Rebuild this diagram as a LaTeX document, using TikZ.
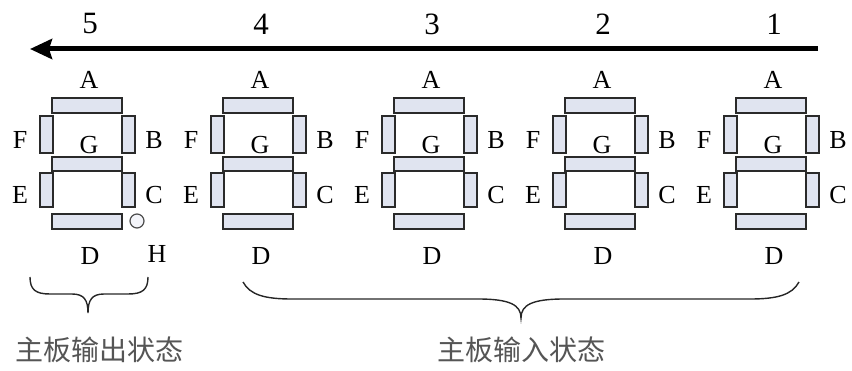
\documentclass[tikz,border=0pt]{standalone}
\usepackage{fontspec}
\setmainfont{Liberation Serif}
\newfontfamily\cjk{Noto Sans CJK SC}
\usetikzlibrary{arrows.meta}
\definecolor{segfill}{HTML}{E0E4F0}
\definecolor{segline}{HTML}{2A2A2A}
\definecolor{cjkgray}{HTML}{555555}
\tikzset{
  seg/.style={draw=segline, fill=segfill, line width=1.3pt},
  lbl/.style={inner sep=0pt, font=\fontsize{26}{30}\selectfont},
  num/.style={inner sep=0pt, font=\fontsize{31}{34}\selectfont},
  captext/.style={inner sep=0pt, text=cjkgray, font=\cjk\fontsize{28}{32}\selectfont},
  brc/.style={draw=black!85, line width=1.4pt},
}
\begin{document}
\begin{tikzpicture}[x=1pt,y=-1pt]
\useasboundingbox (0,0) rectangle (852,371);
% main arrow
\coordinate (arrR) at (818,49);
\coordinate (arrL) at (30,49);
\draw[line width=5pt, -{Stealth[length=22pt,width=20pt,inset=3pt]}] (arrR) -- (arrL);
% digits
\foreach \k/\n in {0/5,1/4,2/3,3/2,4/1}{
  \pgfmathsetmacro{\ox}{52+171*\k}
  \begin{scope}[xshift=\ox pt]
    \draw[seg] (0,98) rectangle (70,113);
    \draw[seg] (-12,116) rectangle (1,153);
    \draw[seg] (70,116) rectangle (83,153);
    \draw[seg] (0,157) rectangle (70,171);
    \draw[seg] (-12,173) rectangle (1,207);
    \draw[seg] (70,173) rectangle (83,207);
    \draw[seg] (0,214) rectangle (70,229);
    \node[num] (num\n) at (38,24) {\n};
    \node[lbl] (A\n) at (37,80) {A};
    \node[lbl] (F\n) at (-32,140) {F};
    \node[lbl] (G\n) at (37,145) {G};
    \node[lbl] (B\n) at (102,140) {B};
    \node[lbl] (E\n) at (-32,195) {E};
    \node[lbl] (C\n) at (102,195) {C};
    \node[lbl] (D\n) at (38,256) {D};
  \end{scope}
}
% decimal point H on digit 5
\draw[draw=black!70, fill=segfill!40, line width=1.2pt] (137,221) circle (7);
\node[lbl] (H5) at (157,254) {H};
% small brace
\draw[brc] (30,277) .. controls (30,290) and (36,294) .. (50,294) -- (72,294)
  .. controls (84,294) and (88,300) .. (88,313)
  .. controls (88,300) and (92,294) .. (104,294) -- (128,294)
  .. controls (142,294) and (148,290) .. (148,277);
% big brace
\draw[brc] (243,282) .. controls (250,295) and (265,299) .. (292,299) -- (478,299)
  .. controls (510,299) and (521,305) .. (521,318)
  .. controls (521,305) and (532,299) .. (564,299) -- (750,299)
  .. controls (777,299) and (792,295) .. (799,282);
\node[captext] (outtxt) at (100,350) {主板输出状态};
\node[captext] (intxt) at (521,350) {主板输入状态};
\end{tikzpicture}
\end{document}
